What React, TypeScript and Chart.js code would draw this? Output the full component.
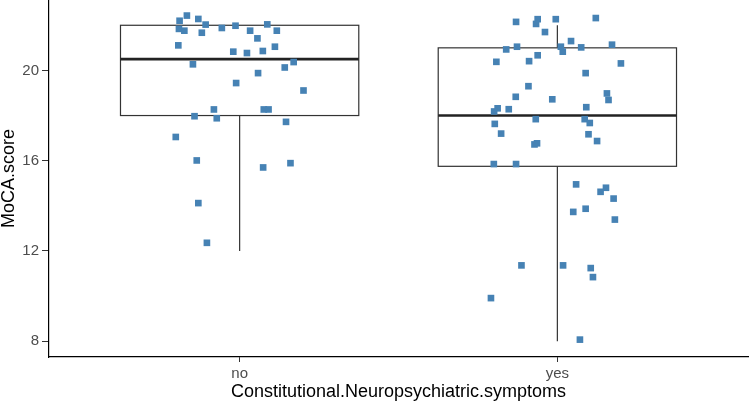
import React, { useEffect, useRef } from "react";
import { Chart, registerables } from "chart.js";

Chart.register(...registerables);

// ---- data ----
const categories = ["no", "yes"];
const yTickValues = [8, 12, 16, 20];

// box statistics per category
const boxQ1 = [18, 15.75];
const boxMedian = [20.5, 18];
const boxQ3 = [22, 21];
const whiskerLow = [12, 8];
const whiskerHigh = [22, 22];

// jittered points: "no"
const noJitter = [
  -0.166, -0.189, -0.13, -0.107, -0.191, -0.174, -0.119, -0.056, -0.013, 0.033,
  0.087, 0.117, 0.056, -0.193, -0.02, 0.023, 0.073, 0.111, -0.147, 0.17,
  0.142, 0.058, -0.011, 0.201, -0.081, 0.076, 0.091, -0.142, -0.072, 0.146,
  -0.201, -0.135, 0.074, 0.16, -0.13, -0.103,
];
const noScore = [
  22.43, 22.2, 22.28, 22.03, 21.84, 21.76, 21.67, 21.88, 21.98, 21.76,
  22.04, 21.76, 21.42, 21.11, 20.83, 20.77, 20.86, 21.05, 20.27, 20.37,
  20.13, 19.88, 19.44, 19.11, 18.27, 18.27, 18.27, 17.97, 17.88, 17.72,
  17.05, 16.01, 15.7, 15.89, 14.12, 12.36,
];

// jittered points: "yes"
const yesJitter = [
  -0.13, -0.062, -0.067, -0.005, 0.121, -0.039, -0.161, -0.127, 0.011, 0.017,
  0.043, 0.075, 0.172, -0.192, -0.089, -0.062, 0.2, 0.089, -0.091, -0.131,
  -0.016, 0.156, 0.161, -0.188, -0.199, -0.153, 0.091, -0.068, 0.086, 0.102,
  -0.197, -0.177, 0.098, -0.064, -0.072, 0.125, -0.2, -0.13, 0.059, 0.153,
  0.136, 0.177, 0.05, 0.089, 0.181, -0.113, 0.018, 0.105, 0.112, -0.209,
  0.071,
];
const yesScore = [
  22.15, 22.27, 22.06, 22.27, 22.32, 21.7, 20.93, 21.05, 21.05, 20.83,
  21.3, 21.02, 21.14, 20.38, 20.41, 20.67, 20.31, 19.88, 19.3, 18.83,
  18.72, 18.98, 18.69, 18.32, 18.18, 18.28, 18.37, 17.84, 17.84, 17.67,
  17.63, 17.2, 17.17, 16.77, 16.72, 16.87, 15.85, 15.85, 14.95, 14.8,
  14.62, 14.32, 13.73, 13.87, 13.39, 11.36, 11.36, 11.24, 10.84, 9.91,
  8.07,
];

const BOX_HALF = 0.375;
const POINT_COLOR = "#4682B4";
const FONT = "'Liberation Sans', Arial, sans-serif";

const boxPlugin = {
  id: "boxes",
  beforeDatasetsDraw(chart: any) {
    const { ctx, scales } = chart;
    const x = scales.x;
    const y = scales.y;
    ctx.save();
    categories.forEach((_, i) => {
      const c = i + 1;
      const xl = x.getPixelForValue(c - BOX_HALF);
      const xr = x.getPixelForValue(c + BOX_HALF);
      const xc = x.getPixelForValue(c);
      const yq1 = y.getPixelForValue(boxQ1[i]);
      const yq3 = y.getPixelForValue(boxQ3[i]);
      const ym = y.getPixelForValue(boxMedian[i]);
      const ylo = y.getPixelForValue(whiskerLow[i]);
      const yhi = y.getPixelForValue(whiskerHigh[i]);
      ctx.strokeStyle = "#333333";
      ctx.lineWidth = 1.2;
      // whiskers
      ctx.beginPath();
      ctx.moveTo(xc, yq1);
      ctx.lineTo(xc, ylo);
      ctx.moveTo(xc, yq3);
      ctx.lineTo(xc, yhi);
      ctx.stroke();
      // box
      ctx.fillStyle = "#ffffff";
      ctx.fillRect(xl, yq3, xr - xl, yq1 - yq3);
      ctx.strokeRect(xl, yq3, xr - xl, yq1 - yq3);
      // median
      ctx.lineWidth = 2.6;
      ctx.strokeStyle = "#222222";
      ctx.beginPath();
      ctx.moveTo(xl, ym);
      ctx.lineTo(xr, ym);
      ctx.stroke();
    });
    ctx.restore();
  },
};

export default function App() {
  const ref = useRef<HTMLCanvasElement | null>(null);

  useEffect(() => {
    if (!ref.current) return;
    const noPts = noJitter.map((dx, k) => ({ x: 1 + dx, y: noScore[k] }));
    const yesPts = yesJitter.map((dx, k) => ({ x: 2 + dx, y: yesScore[k] }));
    const chart = new Chart(ref.current, {
      type: "scatter",
      data: {
        datasets: [
          {
            label: categories[0],
            data: noPts,
            backgroundColor: POINT_COLOR,
            borderWidth: 0,
            pointStyle: "rect",
            pointRadius: 4.7,
          },
          {
            label: categories[1],
            data: yesPts,
            backgroundColor: POINT_COLOR,
            borderWidth: 0,
            pointStyle: "rect",
            pointRadius: 4.7,
          },
        ],
      },
      options: {
        animation: false,
        responsive: false,
        devicePixelRatio: 1,
        layout: { autoPadding: false, padding: { top: 0, right: 1, bottom: 0, left: 0 } },
        plugins: {
          legend: { display: false },
          tooltip: { enabled: false },
        },
        scales: {
          x: {
            type: "linear",
            min: 0.4,
            max: 2.6,
            afterFit: (s: any) => {
              s.height = 48;
              s.paddingLeft = 0;
              s.paddingRight = 0;
              s.paddingTop = 0;
              s.paddingBottom = 0;
            },
            afterBuildTicks: (s: any) => {
              s.ticks = categories.map((_, i) => ({ value: i + 1 }));
            },
            ticks: {
              color: "#4d4d4d",
              font: { family: FONT, size: 15 },
              padding: 3,
              callback: (v: any) => categories[Math.round(v) - 1] ?? "",
            },
            grid: {
              drawOnChartArea: false,
              drawTicks: true,
              tickLength: 5,
              color: "#333333",
            },
            border: { color: "#000000", width: 1.2 },
            title: {
              display: true,
              text: "Constitutional.Neuropsychiatric.symptoms",
              color: "#000000",
              font: { family: FONT, size: 18 },
              padding: { top: 0, bottom: 2 },
            },
          },
          y: {
            type: "linear",
            min: 7.3,
            max: 23.12,
            afterFit: (s: any) => {
              s.width = 49;
              s.paddingLeft = 0;
              s.paddingRight = 0;
              s.paddingTop = 0;
              s.paddingBottom = 0;
            },
            afterBuildTicks: (s: any) => {
              s.ticks = yTickValues.map((v) => ({ value: v }));
            },
            ticks: {
              color: "#4d4d4d",
              font: { family: FONT, size: 15 },
              padding: 3,
            },
            grid: {
              drawOnChartArea: false,
              drawTicks: true,
              tickLength: 7,
              color: "#333333",
            },
            border: { color: "#000000", width: 1.2 },
            title: {
              display: true,
              text: "MoCA.score",
              color: "#000000",
              font: { family: FONT, size: 18 },
              padding: { top: -2, bottom: 0 },
            },
          },
        },
      },
      plugins: [boxPlugin],
    });
    return () => chart.destroy();
  }, []);

  return (
    <div style={{ position: "fixed", left: 0, top: 0, width: 749, height: 405, background: "#fff" }}>
      <canvas ref={ref} width={749} height={405} style={{ display: "block" }} />
    </div>
  );
}
